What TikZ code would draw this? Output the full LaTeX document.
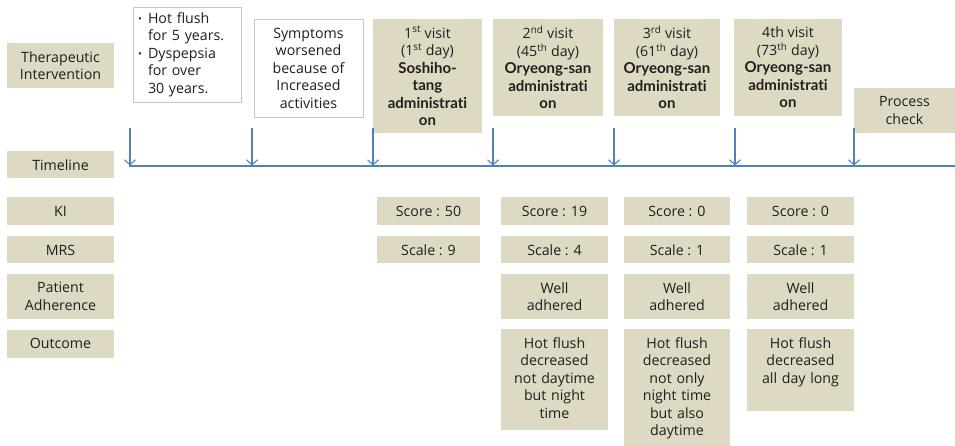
\documentclass[tikz,border=0pt]{standalone}
\usepackage{fontspec}
\setmainfont{Open Sans}[BoldFont={Lato Bold}, BoldFeatures={Ligatures=NoCommon}]
\usetikzlibrary{arrows.meta}
\definecolor{boxtan}{HTML}{DDD9C3}
\definecolor{timeblue}{HTML}{4F81BD}
\colorlet{edgegray}{black!22}
\colorlet{inkgray}{black!88}
\newcommand{\drugline}[1]{{\fontsize{15}{17.5}\selectfont\textbf{#1}}}

\begin{document}
\begin{tikzpicture}[x=1pt, y=-1pt, >={Straight Barb[length=5pt, width=11pt]},
    every node/.style={font=\fontsize{14.2}{17.5}\selectfont, text=inkgray, inner sep=0pt, align=center},
    lab/.style={fill=boxtan, minimum width=107pt, minimum height=#1},
    cell/.style={fill=boxtan, minimum width=#1},
    note/.style={draw=edgegray, line width=0.8pt, fill=white},
    outbox/.style={fill=boxtan, anchor=north, text width=107pt, text height=19pt, text depth=#1}]
    \useasboundingbox (0,0) rectangle (955,446);

    % Row labels
    \node[lab=45pt] (ther) at (60.5,65.5) {Therapeutic\\Intervention};
    \node[lab=27pt] (time) at (60.5,165) {Timeline};
    \node[lab=28pt] (ki) at (60.5,211) {KI};
    \node[lab=27pt] (mrs) at (60.5,250) {MRS};
    \node[lab=45pt] (adh) at (60.5,296.5) {Patient\\Adherence};
    \node[lab=28pt] (outc) at (60.5,343.5) {Outcome};

    % History before the first visit
    \node[note, text width=98pt, inner xsep=5pt, align=left, minimum height=95pt] (hist) at (187,54.5)
        {\makebox[10pt][l]{\raisebox{0.5pt}{\fontsize{10}{10}\selectfont\textbullet}}Hot flush\\\hspace*{10pt}for 5 years.\\
         \makebox[10pt][l]{\raisebox{0.5pt}{\fontsize{10}{10}\selectfont\textbullet}}Dyspepsia\\\hspace*{10pt}for over\\\hspace*{10pt}30 years.};
    \node[note, minimum width=109pt, minimum height=98pt] (symp) at (308.5,68)
        {Symptoms\\worsened\\because of\\Increased\\activities};

    % Visits
    \node[cell=109pt, minimum height=114pt] (v1) at (427.5,76)
        {1\textsuperscript{st} visit\\(1\textsuperscript{st} day)\\\drugline{Soshiho-}\\\drugline{tang}\\\drugline{administrati}\\\drugline{on}};
    \node[cell=110pt, minimum height=97pt] (v2) at (548,67.5)
        {2\textsuperscript{nd} visit\\(45\textsuperscript{th} day)\\\drugline{Oryeong-san}\\\drugline{administrati}\\\drugline{on}};
    \node[cell=106pt, minimum height=97pt] (v3) at (667,67.5)
        {3\textsuperscript{rd} visit\\(61\textsuperscript{th} day)\\\drugline{Oryeong-san}\\\drugline{administrati}\\\drugline{on}};
    \node[cell=108pt, minimum height=97pt] (v4) at (788,67.5)
        {4th visit\\(73\textsuperscript{th} day)\\\drugline{Oryeong-san}\\\drugline{administrati}\\\drugline{on}};
    \node[cell=101pt, minimum height=45pt] (proc) at (904.5,110.5) {Process\\check};

    % Timeline with arrows
    \coordinate (tstart) at (129,166);
    \coordinate (tend) at (955,166);
    \draw[timeblue, line width=1.4pt] (tstart) -- (tend);
    \foreach \x [count=\i] in {130,252,373,493,614,735,854} {
        \coordinate (s\i) at (\x,128);
        \coordinate (e\i) at (\x,165.5);
        \draw[->, timeblue, line width=1.1pt] (s\i) -- (e\i);
    }

    % KI
    \node[cell=103pt, minimum height=28pt] (ki1) at (428.5,211) {Score : 50};
    \node[cell=107pt, minimum height=28pt] (ki2) at (554.5,211) {Score : 19};
    \node[cell=106pt, minimum height=28pt] (ki3) at (677,211) {Score : 0};
    \node[cell=107pt, minimum height=28pt] (ki4) at (800.5,211) {Score : 0};

    % MRS
    \node[cell=103pt, minimum height=27pt] (mrs1) at (428.5,250) {Scale : 9};
    \node[cell=107pt, minimum height=27pt] (mrs2) at (554.5,250) {Scale : 4};
    \node[cell=106pt, minimum height=27pt] (mrs3) at (677,250) {Scale : 1};
    \node[cell=107pt, minimum height=27pt] (mrs4) at (800.5,250) {Scale : 1};

    % Adherence
    \node[cell=107pt, minimum height=45pt] (adh2) at (554.5,296.5) {Well\\adhered};
    \node[cell=106pt, minimum height=45pt] (adh3) at (677,296.5) {Well\\adhered};
    \node[cell=107pt, minimum height=45pt] (adh4) at (800.5,296.5) {Well\\adhered};

    % Outcome
    \node[outbox=82pt] (out2) at (554.5,329) {Hot flush\\decreased\\not daytime\\but night\\time};
    \node[outbox=98pt, text width=106pt] (out3) at (677,329) {Hot flush\\decreased\\not only\\night time\\but also\\daytime};
    \node[outbox=63pt] (out4) at (800.5,329) {Hot flush\\decreased\\all day long};
\end{tikzpicture}
\end{document}
